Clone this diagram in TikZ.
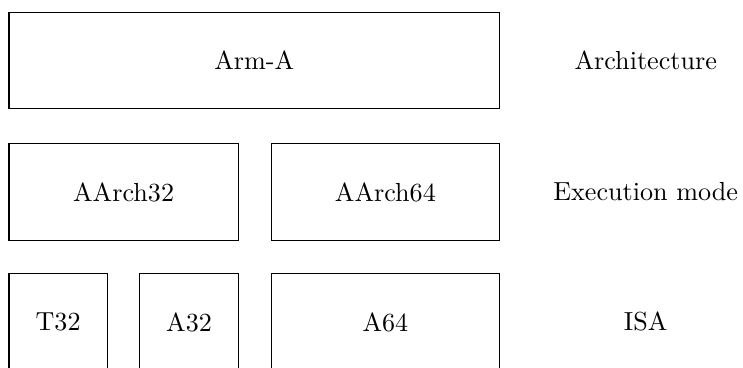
\documentclass[tikz,border=0pt]{standalone}
\usepackage{amsmath}
\usepackage{amssymb}

\tikzset{
  block/.style={draw, rectangle, minimum height=1.3cm, inner sep=0pt, anchor=north west},
  layer/.style={inner sep=0pt}
}

\begin{document}
\begin{tikzpicture}
\useasboundingbox (0,0) rectangle (10,4.94);
\node[block, minimum width=6.6cm] (arma) at (0.114,4.785) {Arm-A};
\node[block, minimum width=3.085cm] (aarch32) at (0.114,3.01) {AArch32};
\node[block, minimum width=3.073cm] (aarch64) at (3.643,3.01) {AArch64};
\node[block, minimum width=1.322cm] (t32) at (0.114,1.261) {T32};
\node[block, minimum width=1.324cm] (a32) at (1.875,1.261) {A32};
\node[block, minimum width=3.073cm] (a64) at (3.643,1.261) {A64};
\node[layer] (arch) at (8.69,4.135) {Architecture};
\node[layer] (mode) at (8.69,2.36) {Execution mode};
\node[layer] (isa) at (8.69,0.611) {ISA};
\end{tikzpicture}
\end{document}
